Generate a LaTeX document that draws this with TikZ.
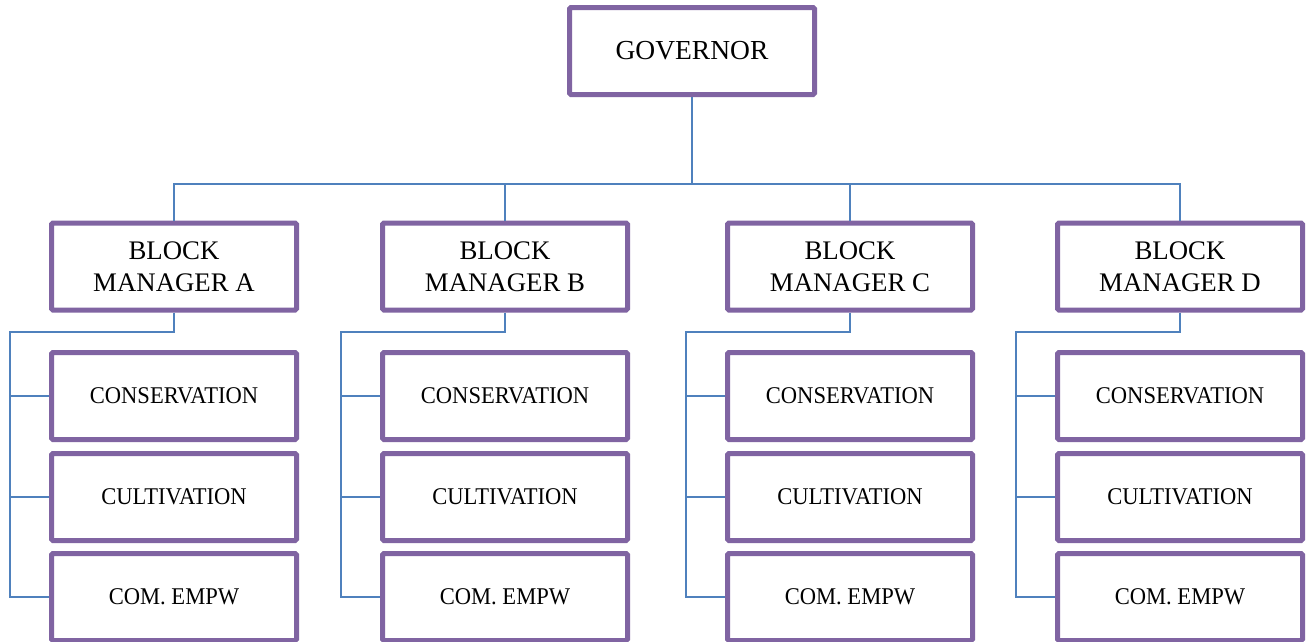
\documentclass[tikz,border=0pt]{standalone}
\usepackage{fontspec}
\setmainfont{Liberation Serif}
\newfontfamily\narrowserif[FakeStretch=0.94]{Liberation Serif}
\definecolor{boxpurple}{HTML}{8064A2}
\definecolor{linkblue}{HTML}{4F81BD}
\begin{document}
\begin{tikzpicture}[x=1pt,y=-1pt,
  orgbox/.style={draw=boxpurple, line width=5pt, rounded corners=1.5pt, fill=white,
    minimum width=245pt, minimum height=87pt, inner sep=0pt, align=center},
  govtext/.style={font=\fontsize{27.5}{32}\selectfont},
  headtext/.style={font=\fontsize{26.8}{32}\selectfont},
  subtext/.style={font=\narrowserif\fontsize{24}{28}\selectfont},
  link/.style={draw=linkblue, line width=1.5pt}]
\fill[white] (0,0) rectangle (1310,641);
\useasboundingbox (0,0) rectangle (1310,641);

% top of the chart
\node[orgbox, govtext] (gov) at (692,51) {GOVERNOR};
\coordinate (bus) at (692,184);
\draw[link] (gov.south) -- (bus);

% one column per block manager
\foreach \id/\cx/\letter in {A/174/A, B/505/B, C/850/C, D/1180/D}{
  \node[orgbox, headtext] (bm\id) at (\cx,266.5) {BLOCK\\MANAGER \letter};
  \node[orgbox, subtext] (cons\id) at (\cx,396) {CONSERVATION};
  \node[orgbox, subtext] (cult\id) at (\cx,497) {CULTIVATION};
  \node[orgbox, subtext] (com\id) at (\cx,597) {COM. EMPW};
  \coordinate (rail\id) at (\cx-164,332);
  \draw[link] (bus) -| (bm\id.north);
  \draw[link] (bm\id.south) |- (rail\id) -- (rail\id |- com\id.west) -- (com\id.west);
  \draw[link] (rail\id |- cons\id.west) -- (cons\id.west);
  \draw[link] (rail\id |- cult\id.west) -- (cult\id.west);
}
\end{tikzpicture}
\end{document}
